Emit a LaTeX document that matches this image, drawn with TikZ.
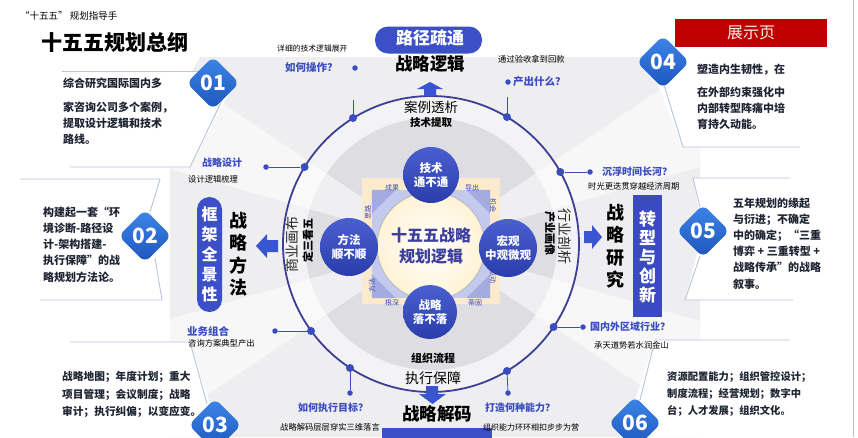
\documentclass[tikz,border=0pt]{standalone}
\usepackage{fontspec}
\setmainfont{Noto Sans CJK SC}
\usetikzlibrary{shapes.geometric,calc}
\definecolor{navy}{HTML}{3C3F94}
\definecolor{qblue}{HTML}{3B4CC0}
\definecolor{balltop}{HTML}{4A5FD0}
\definecolor{ballbot}{HTML}{2B3DAC}
\definecolor{arrowblue}{HTML}{3A55D2}
\definecolor{dia1}{HTML}{3D86E8}
\definecolor{dia2}{HTML}{1D55BD}
\definecolor{gbg}{HTML}{EEEEF1}
\definecolor{gin}{HTML}{F3F3F5}
\definecolor{gring}{HTML}{DDDDE2}
\definecolor{cream}{HTML}{FBEACB}
\definecolor{peri}{HTML}{C4C9EE}
\definecolor{perid}{HTML}{A3ABE0}
\definecolor{plinec}{HTML}{BAC4D6}
\definecolor{txtdark}{HTML}{1F2533}
\definecolor{redbox}{HTML}{C00000}
\definecolor{coretext}{HTML}{3D3F9F}
\definecolor{pillblue}{HTML}{3B50C6}
\definecolor{rectblue}{HTML}{3A4BBF}
\definecolor{coreedge}{HTML}{BDBDBD}
\definecolor{coreout}{HTML}{FFF3D6}
\begin{document}
\begin{tikzpicture}[x=1pt,y=-1pt,
  every node/.style={inner sep=0pt},
  pline/.style={draw=plinec, line width=0.9pt},
  ptext/.style={text=txtdark, font=\bfseries\fontsize{11}{16.2}\selectfont, align=left, anchor=north west},
  ptextone/.style={text=txtdark, font=\bfseries\fontsize{11}{16}\selectfont, anchor=west},
  numdia/.style={diamond, aspect=1, minimum width=53pt, minimum height=53pt, rounded corners=7pt, top color=dia1, bottom color=dia2, text=white, font=\bfseries\fontsize{21}{21}\selectfont},
  ball/.style={circle, top color=balltop, bottom color=ballbot, text=white, font=\bfseries\fontsize{11.5}{13.5}\selectfont, align=center},
  bigdot/.style={circle, fill=qblue, minimum size=8pt},
  smdot/.style={circle, fill=qblue, minimum size=5.5pt},
  conn/.style={draw=qblue, line width=0.8pt},
  qlabel/.style={text=qblue, font=\bfseries\fontsize{10.5}{12}\selectfont, anchor=west},
  sublabel/.style={text=black, font=\fontsize{8.3}{10}\selectfont, anchor=west},
  tinylab/.style={text=qblue, font=\fontsize{7}{7}\selectfont},
  quadtitle/.style={text=black, font=\bfseries\fontsize{17.5}{17.5}\selectfont},
  vtitle/.style={text=black, font=\bfseries\fontsize{18}{22.5}\selectfont, align=center},
  arr/.style={fill=arrowblue},
]
\clip (0,0) rectangle (858,437);
\fill[white] (0,0) rectangle (858,437);

% ---------- background ----------
\fill[gbg] (200,57) -- (650,57) -- (700,110) -- (700,437) -- (170,437) -- (170,110) -- cycle;
\fill[gin] (431,244) circle (148pt);
\fill[gring] (431,244) circle (126pt);
\begin{scope}
  \clip (200,57) -- (650,57) -- (700,110) -- (700,437) -- (170,437) -- (170,110) -- cycle;
  \foreach \t in {25,155,205,335}
    \fill[white, opacity=0.55] (431,244) -- +({520*cos(\t-9)},{-520*sin(\t-9)}) -- +({520*cos(\t+9)},{-520*sin(\t+9)}) -- cycle;
\end{scope}

% ---------- panels ----------
\fill[white] (0,71) -- (205,71) -- (228,95) -- (190,167) -- (0,167) -- cycle;
\fill[white] (0,179) -- (160,179) -- (168,236) -- (162,300) -- (0,300) -- cycle;
\fill[white] (0,342) -- (190,342) -- (212,410) -- (212,437) -- (0,437) -- cycle;
\fill[white] (640,40) -- (858,40) -- (858,147) -- (683,147) -- cycle;
\fill[white] (693,178) -- (858,178) -- (858,300) -- (685,300) -- (703,231) -- cycle;
\fill[white] (655,340) -- (858,340) -- (858,437) -- (620,437) -- (635,400) -- cycle;

\draw[pline] (62,71) -- (200,71);
\draw[pline] (225,94) -- (190,167) -- (70,167);
\draw[pline] (20,179) -- (160,179) -- (150,212);
\draw[pline] (155,258) -- (162,300) -- (40,300);
\draw[pline] (70,342) -- (190,342) -- (207,404);
\draw[pline] (664,85) -- (683,147) -- (800,147);
\draw[pline] (790,178) -- (693,178) -- (700,207);
\draw[pline] (700,256) -- (685,300) -- (793,300);
\draw[pline] (790,340) -- (655,340) -- (640,400);

\draw[black!25, line width=0.8pt] (853,0) -- (853,437);

% ---------- main circle ----------
\node[circle, draw=navy, line width=1.8pt, minimum size=296pt] (mainc) at (431,244) {};

% ---------- centre ----------
\node[fill=cream, minimum width=138pt, minimum height=126pt] (sq) at (431,241) {};
\node[fill=peri, minimum width=118pt, minimum height=108pt] (sq2) at (431,244) {};
\fill[perid] (sq2.north west) -- ++(24,0) -- ++(-24,24) -- cycle;
\fill[perid] (sq2.north east) -- ++(-24,0) -- ++(24,24) -- cycle;
\fill[perid] (sq2.south west) -- ++(24,0) -- ++(-24,-24) -- cycle;
\fill[perid] (sq2.south east) -- ++(-24,0) -- ++(24,-24) -- cycle;
\node[circle, draw=coreedge, line width=1pt, inner color=white, outer color=coreout, minimum size=108pt, align=center, text=coretext, font=\bfseries\fontsize{16}{21}\selectfont] (core) at (431,246) {十五五战略\\规划逻辑};

\node[tinylab] (tl1) at (392,188) {成果};
\node[tinylab] (tl2) at (472,188) {导出};
\node[tinylab, rotate=-90] (tl3) at (493,205) {机会};
\node[tinylab, rotate=-90] (tl4) at (493,276) {驱动};
\node[tinylab, rotate=90] (tl5) at (368,212) {思路};
\node[tinylab, rotate=90] (tl6) at (372,285) {方法};
\node[tinylab] (tl7) at (392,303) {根深};
\node[tinylab] (tl8) at (475,303) {蒂固};

\node[ball, minimum size=56pt] (b1) at (431,175) {技术\\通不通};
\node[ball, minimum size=58pt] (b2) at (349,247) {方法\\顺不顺};
\node[ball, minimum size=58pt] (b3) at (508,248) {宏观\\中观微观};
\node[ball, minimum size=54pt] (b4) at (430,312) {战略\\落不落};

% inner columns
\node[rotate=90, text=black!85, font=\fontsize{14}{14}\selectfont] (c1) at (292,244) {商业画布};
\node[rotate=90, text=black, font=\bfseries\fontsize{11}{11}\selectfont] (c2) at (308,240) {定三看五};
\node[rotate=-90, text=black!85, font=\fontsize{14}{14}\selectfont] (c3) at (565,236) {行业剖析};
\node[rotate=-90, text=black, font=\bfseries\fontsize{11}{11}\selectfont] (c4) at (550,233) {产业画像};

% ---------- top quadrant ----------
\node[fill=pillblue, rounded corners=13pt, minimum width=107pt, minimum height=27pt] (pill) at (428.5,40) {};
\node[text=white, font=\bfseries\fontsize{17}{17}\selectfont] (pillt) at (430,37.5) {路径疏通};
\node[quadtitle] (q1) at (430,64) {战略逻辑};
\fill[arr] (430,82) -- (443,89) -- (436,89) -- (436,96) -- (424,96) -- (424,89) -- (417,89) -- cycle;
\node[text=black, font=\fontsize{13.5}{14}\selectfont] (q1a) at (431,107) {案例透析};
\node[text=black, font=\bfseries\fontsize{10.5}{11}\selectfont] (q1b) at (431,123) {技术提取};

% ---------- bottom quadrant ----------
\node[text=black, font=\bfseries\fontsize{11}{12}\selectfont] (q4b) at (433,358) {组织流程};
\node[text=black, font=\fontsize{14}{15}\selectfont] (q4a) at (433,378) {执行保障};
\fill[arr] (426,386) -- (438,386) -- (438,394) -- (446,394) -- (432.5,404) -- (419,394) -- (426,394) -- cycle;
\node[quadtitle] (q4) at (437,414) {战略解码};
\node[fill=pillblue, minimum width=110pt, minimum height=24pt] (bbox) at (437,440) {};

% ---------- left quadrant ----------
\node[vtitle] (q2) at (238,254) {战\\略\\方\\法};
\fill[arr] (256,246) -- (267,234) -- (267,240) -- (278,240) -- (278,252) -- (267,252) -- (267,258) -- cycle;
\node[fill=pillblue, rounded corners=12.5pt, minimum width=25pt, minimum height=115pt] (vp) at (209.5,254.5) {};
\node[text=white, align=center, font=\bfseries\fontsize{16}{20}\selectfont] (vpt) at (209.5,254) {框\\架\\全\\景\\性};

% ---------- right quadrant ----------
\node[vtitle] (q3) at (615,246) {战\\略\\研\\究};
\fill[arr] (602,237) -- (592,225) -- (592,231) -- (584,231) -- (584,243) -- (592,243) -- (592,249) -- cycle;
\node[fill=rectblue, minimum width=29pt, minimum height=122pt] (vr) at (647.5,256) {};
\node[text=white, align=center, font=\bfseries\fontsize{17}{19}\selectfont] (vrt) at (647.5,257) {转\\型\\与\\创\\新};

% ---------- connectors & labels ----------
\coordinate (tA) at (353,100);
\node[bigdot] (dA) at (353,118) {};
\draw[conn] (tA) -- (dA);
\node[smdot] (sA) at (355,68) {};
\node[qlabel] (lA) at (285,68) {如何操作？};
\node[sublabel, font=\fontsize{7.8}{9}\selectfont] (sbA) at (277,49) {详细的技术逻辑展开};

\coordinate (tB) at (507,97);
\node[bigdot] (dB) at (507,117) {};
\draw[conn] (tB) -- (dB);
\node[smdot] (sB) at (508,82) {};
\node[qlabel] (lB) at (513,82) {产出什么？};
\node[sublabel] (sbB) at (498,59) {通过验收拿到回款};

\node[bigdot] (dC) at (304.6,167) {};
\node[smdot] (sC) at (266,167) {};
\draw[conn] (sC) -- (dC);
\node[qlabel, font=\bfseries\fontsize{10}{12}\selectfont] (lC) at (202,163) {战略设计};
\node[sublabel] (sbC) at (188,179) {设计逻辑梳理};

\node[bigdot] (dD) at (560.3,172) {};
\node[smdot] (sD) at (590,172) {};
\draw[conn] (dD) -- (sD);
\node[qlabel, font=\bfseries\fontsize{10}{12}\selectfont] (lD) at (602,172) {沉浮时间长河？};
\node[sublabel] (sbD) at (588,186) {时光更迭贯穿越经济周期};

\node[bigdot] (dE) at (311,331) {};
\node[smdot] (sE) at (275,331) {};
\draw[conn] (sE) -- (dE);
\node[qlabel] (lE) at (187,331) {业务组合};
\node[sublabel] (sbE) at (188,343) {咨询方案典型产出};

\node[bigdot] (dF) at (553.6,327) {};
\node[smdot] (sF) at (583,327) {};
\draw[conn] (dF) -- (sF);
\node[qlabel, font=\bfseries\fontsize{10}{12}\selectfont] (lF) at (590,327) {国内外区域行业？};
\node[sublabel] (sbF) at (594,345) {承天道势若水润金山};

\node[bigdot] (dG) at (350,368) {};
\node[smdot] (sG) at (350,393) {};
\draw[conn] (dG) -- (sG);
\node[qlabel, font=\bfseries\fontsize{10}{12}\selectfont] (lG) at (298,408) {如何执行目标？};
\node[sublabel] (sbG) at (280,427) {战略解码层层穿实三维落言};

\node[bigdot] (dH) at (507,371) {};
\node[smdot] (sH) at (508,393) {};
\draw[conn] (dH) -- (sH);
\node[qlabel, font=\bfseries\fontsize{10}{12}\selectfont] (lH) at (485,408) {打造何种能力？};
\node[sublabel, font=\fontsize{8}{9}\selectfont] (sbH) at (483,427) {组织能力环环相扣步步为营};

% ---------- panel texts ----------
\node[ptextone] (t01a) at (63,83) {综合研究国际国内多};
\node[ptext] (t01b) at (63,101.5) {家咨询公司多个案例，\\提取设计逻辑和技术\\路线。};
\node[ptext] (t02) at (43,206.5) {构建起一套“环\\境诊断-路径设\\计-架构搭建-\\执行保障”的战\\略规划方法论。};
\node[ptext, font=\bfseries\fontsize{10.7}{17.3}\selectfont] (t03) at (62,371.5) {战略地图；年度计划；重大\\项目管理；会议制度；战略\\审计；执行纠偏；以变应变。};
\node[ptextone] (t04a) at (697,70) {塑造内生韧性，在};
\node[ptext] (t04b) at (697,86.5) {在外部约束强化中\\内部转型阵痛中培\\育持久动能。};
\node[ptext] (t05) at (733,197.5) {五年规划的缘起\\与衍进；不确定\\中的确定；“三重\\博弈 + 三重转型 +\\战略传承”的战略\\叙事。};
\node[ptext, font=\bfseries\fontsize{10.3}{17}\selectfont] (t06) at (667,371.5) {资源配置能力；组织管控设计；\\制度流程；经营规划；数字中\\台；人才发展；组织文化。};

\node[numdia] (n01) at (213,83) {01};
\node[numdia] (n02) at (145,236) {02};
\node[numdia] (n03) at (215,425) {03};
\node[numdia] (n04) at (663,62) {04};
\node[numdia] (n05) at (703,231) {05};
\node[numdia] (n06) at (635,423) {06};

% ---------- header ----------
\node[anchor=west, font=\fontsize{9.5}{10}\selectfont] (sup) at (20,16) {“十五五” 规划指导手};
\node[font=\bfseries\fontsize{21}{21}\selectfont] (title) at (115,42) {十五五规划总纲};
\node[fill=redbox, minimum width=152pt, minimum height=28pt, text=red!8, font=\fontsize{16}{16}\selectfont] (show) at (751,33) {展示页};
\end{tikzpicture}
\end{document}
